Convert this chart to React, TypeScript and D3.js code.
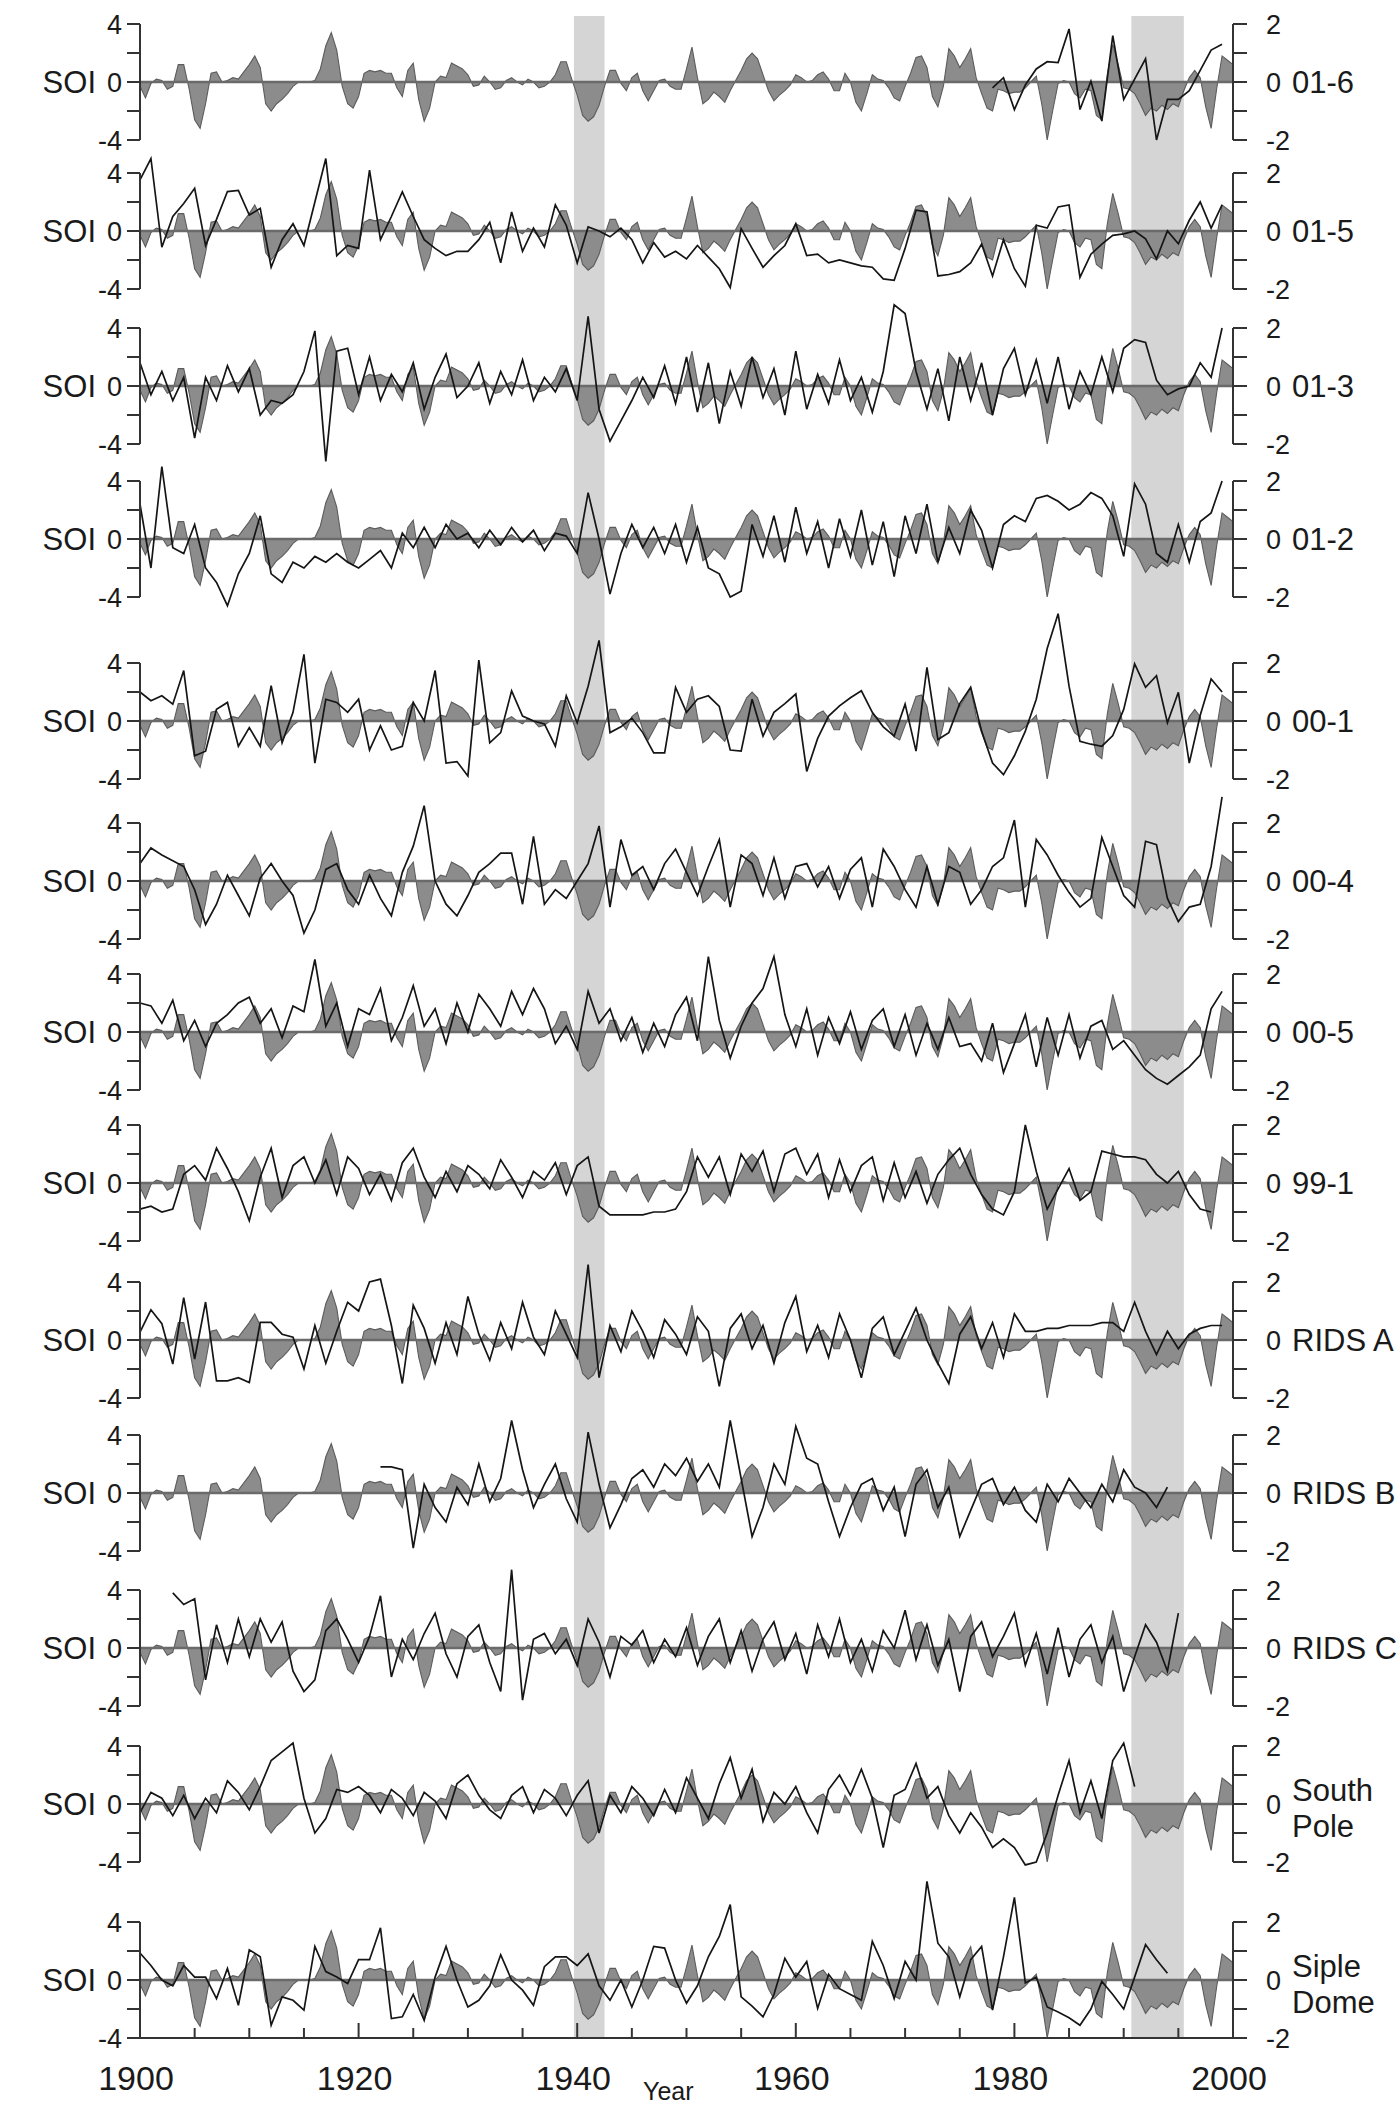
import React from 'react';
import * as d3 from 'd3';

// ---------------- DATA ----------------
const soiStart = 1900;
const soiStep = 0.5;
const soiValues = [
  -0.3, -1.1, -0.1, 0.2, 0.1, -0.5, -0.3, 1.2, 1.2, -0.5,
  -2.6, -3.2, -1.5, 0.6, 0.7, 0, 0.1, 0.3, 0.2, 0.7,
  1.2, 1.8, 1.0, -1.5, -2.0, -1.5, -1.2, -0.8, -0.3, 0,
  0, 0, 0.1, 0.9, 2.5, 3.4, 2.2, -0.3, -1.5, -1.8,
  -1.0, 0.6, 0.8, 0.7, 0.8, 0.6, 0.6, -0.4, -1.0, 0.8,
  1.3, -1.2, -2.7, -1.8, 0, 0.4, 0.3, 1.3, 1.1, 0.9,
  0.5, -0.3, -0.2, 0.4, 0, -0.5, -0.4, 0.1, 0.3, 0,
  -0.2, 0.2, 0, -0.4, -0.3, 0, 0.5, 1.4, 1.4, 0.2,
  -0.9, -2.3, -2.7, -2.4, -1.6, -0.3, 0.8, 0.8, -0.1, -0.6,
  0.3, 0.6, -0.6, -1.3, -0.6, 0.1, 0.2, -0.3, -0.5, -0.5,
  0.9, 2.4, 0.3, -1.5, -1.2, -0.7, -1.0, -1.4, -0.6, 0.1,
  0.8, 1.6, 2.0, 1.6, 0.5, -0.6, -1.3, -0.9, -0.6, -0.2,
  0.5, 0.3, 0, 0.1, 0.5, 0.7, 0.2, -0.6, -0.6, 0.6,
  0, -1.4, -2.0, -0.8, 0.5, 0.2, 0.1, -0.4, -1.1, -1.3,
  -0.3, 0.6, 1.7, 1.8, 1.0, -1.0, -1.7, -0.3, 2.3, 1.8,
  1.0, 1.6, 2.3, 0.3, -0.8, -1.8, -2.0, -0.5, -0.6, -0.8,
  -0.7, -0.7, -0.4, 0, 0.4, -1.5, -4.0, -2.0, -0.1, 0.1,
  0, -0.8, -1.1, -0.5, -0.6, -2.3, -2.6, 0.5, 2.6, 1.2,
  -0.4, -0.5, -0.8, -1.5, -2.3, -1.8, -2.0, -1.6, -1.9, -1.5,
  -1.7, -0.6, 0.3, 0.8, 0.3, -1.7, -3.2, -0.5, 1.8, 1.5,
  1.2,
];

// Ice-core series (annual values, first year given separately)
const s01_6Start = 1978;
const s01_6 = [-0.2, 0.15, -0.95, -0.1, 0.45, 0.7, 0.67, 1.83, -0.95, 0.03, -1.35, 1.6, -0.6, 0.1, 0.8, -2.0, -0.6, -0.6, -0.3, 0.4, 1.1, 1.3];

const s01_5Start = 1900;
const s01_5 = [
  1.76, 2.5, -0.56, 0.5, 0.95, 1.47, -0.5, 0.4, 1.36, 1.4,
  0.55, 0.78, -1.25, -0.3, 0.25, -0.5, 1.0, 2.5, -0.85, -0.5,
  -0.6, 2.1, -0.3, 0.5, 1.35, 0.5, -0.3, -0.6, -0.85, -0.7,
  -0.7, -0.3, 0.3, -1.1, 0.66, -0.7, 0.1, -0.55, 0.9, 0.2,
  -1.1, 0.14, 0, -0.2, 0.1, -0.3, -1.1, -0.4, -0.9, -0.7,
  -0.96, -0.5, -0.9, -1.3, -1.95, 0.08, -0.6, -1.25, -0.85, -0.5,
  0.25, -0.85, -0.8, -1.1, -1.0, -1.1, -1.2, -1.25, -1.65, -1.7,
  -0.6, 0.72, 0.66, -1.55, -1.5, -1.4, -1.1, -0.45, -1.55, -0.3,
  -1.3, -1.9, 0.2, 0.1, 0.83, 0.9, -1.6, -0.8, -0.45, -0.15,
  -0.1, 0, -0.27, -0.96, 0, -0.44, 0.37, 1.0, 0.1, 0.9,
];

const s01_3Start = 1900;
const s01_3 = [
  0.8, -0.3, 0.5, -0.5, 0.3, -1.8, 0.3, -0.5, 0.7, -0.2,
  0.6, -1.0, -0.5, -0.6, -0.3, 0.5, 1.9, -2.6, 1.2, 1.3,
  -0.3, 1.0, -0.5, 0.4, -0.2, 0.8, -0.8, 0.3, 1.1, -0.4,
  0, 0.8, -0.6, 0.5, -0.3, 0.9, -0.5, 0.3, -0.2, 0.6,
  -0.5, 2.4, -0.8, -1.9, -1.2, -0.5, 0.3, -0.4, 0.7, -0.6,
  1.0, -0.9, 0.8, -1.3, 0.5, -0.7, 1.0, -0.4, 0.6, -1.0,
  1.2, -0.8, 0.4, -0.6, 0.9, -0.5, 0.3, -0.9, 0.5, 2.8,
  2.5, 0.5, -0.8, 0.6, -1.2, 1.0, -0.5, 0.8, -1.0, 0.6,
  1.3, -0.3, 0.9, -0.6, 1.0, -0.8, 0.5, -0.3, 1.0, -0.2,
  1.3, 1.6, 1.5, 0.2, -0.3, -0.1, 0, 0.8, 0.3, 2.0,
];

const s01_2Start = 1900;
const s01_2 = [
  1.2, -1.0, 2.5, -0.3, -0.5, 0.5, -1.0, -1.5, -2.3, -1.2,
  -0.5, 0.8, -1.2, -1.5, -0.8, -1.0, -0.6, -0.8, -0.5, -0.8,
  -1.0, -0.7, -0.4, -1.0, 0.2, -0.3, 0.4, -0.3, 0.5, 0,
  0.2, -0.3, 0.3, -0.2, 0.4, -0.1, 0.3, -0.4, 0.2, 0.1,
  -0.5, 1.6, 0, -1.9, -0.5, 0.5, -0.3, 0.4, -0.5, 0.5,
  -0.8, 0.4, -1.0, -1.2, -2.0, -1.8, 0.5, -0.6, 0.8, -0.8,
  1.1, -0.5, 0.6, -1.0, 0.7, -0.6, 1.0, -0.9, 0.6, -1.3,
  0.8, -0.5, 1.2, -0.8, 0.4, -0.5, 1.0, 0.3, -1.0, 0.5,
  0.8, 0.6, 1.4, 1.5, 1.3, 1.0, 1.2, 1.6, 1.4, 0.8,
  -0.6, 1.9, 1.2, -0.5, -0.8, 0.5, -0.8, 0.6, 0.9, 2.0,
];

const s00_1Start = 1900;
const s00_1 = [
  1.0, 0.7, 0.87, 0.58, 1.74, -1.2, -1.04, 0.4, 0.64, -0.87,
  -0.23, -0.87, 1.22, -0.75, 0.3, 2.3, -1.45, 0.75, 0.64, 0.3,
  0.75, -1.0, -0.17, -1.0, -0.87, 0.64, 0.0, 1.74, -1.45, -1.4,
  -1.9, 2.1, -0.75, -0.4, 1.04, 0.17, 0, -0.1, -0.87, 0.87,
  -0.06, 1.2, 2.78, -0.4, -0.2, 0.1, -0.4, -1.1, -1.1, 1.16,
  0.3, 0.75, 0.87, 0.5, -1.0, -1.04, 0.75, -0.52, 0.3, 0.6,
  0.93, -1.74, -0.6, 0.17, 0.52, 0.8, 1.04, 0.3, -0.2, -0.52,
  0.58, -1.04, 1.85, -0.64, -0.4, 0.6, 1.16, -0.35, -1.45, -1.85,
  -1.2, -0.35, 0.75, 2.5, 3.7, 1.2, -0.7, -0.8, -0.87, -0.5,
  0.4, 1.97, 1.16, 1.56, -0.06, 0.99, -1.45, 0.2, 1.45, 1.0,
];

const s00_4Start = 1900;
const s00_4 = [
  0.6, 1.14, 0.9, 0.7, 0.5, -0.3, -1.5, -0.8, 0.2, -0.5,
  -1.2, 0.1, 0.6, 0, -0.5, -1.8, -1.0, 0.4, 0.6, -0.3,
  -0.8, 0.2, -0.6, -1.2, 0.3, 1.2, 2.6, 0.0, -0.8, -1.2,
  -0.5, 0.3, 0.6, 0.96, 0.96, -0.8, 1.54, -0.8, -0.3, -0.6,
  0.0, 0.6, 1.9, -0.9, 1.43, 0.2, 0.5, -0.3, 0.6, 1.1,
  0.3, -0.5, 0.5, 1.43, -0.9, 0.9, 0.6, -0.5, 0.8, -0.6,
  0.5, 0.6, -0.2, 0.5, -0.6, 0.4, 0.8, -0.9, 1.1, 0.5,
  -0.3, -0.9, 0.5, -0.8, 0.5, 0.3, -0.8, -0.3, 0.5, 0.8,
  2.1, -0.9, 1.43, 0.9, 0.2, -0.4, -0.9, -0.6, 1.5, 0.5,
  -0.5, -0.9, 1.37, 1.25, -0.6, -1.4, -0.9, -0.8, 0.5, 2.9,
];

const s00_5Start = 1900;
const s00_5 = [
  1.0, 0.9, 0.3, 1.1, -0.3, 0.4, -0.5, 0.3, 0.6, 1.0,
  1.2, 0.3, 0.8, -0.2, 0.9, 0.7, 2.5, 0.2, 1.0, -0.5,
  0.8, 0.6, 1.5, -0.3, 0.5, 1.6, 0.2, 0.8, -0.4, 1.0,
  0.0, 1.3, 0.8, 0.2, 1.4, 0.6, 1.5, 0.8, -0.4, 0.2,
  -0.6, 1.4, 0.3, 0.8, -0.3, 0.5, -0.7, 0.3, -0.5, 0.6,
  1.2, -0.3, 2.6, 0.4, -0.9, 0.2, 1.0, 1.5, 2.6, 0.6,
  -0.5, 0.8, -0.8, 0.5, -0.4, 0.7, -0.6, 0.4, 0.8, -0.5,
  0.6, -0.8, 0.3, -0.6, 0.5, -0.5, -0.4, -1.0, 0.3, -1.4,
  -0.4, 0.6, -1.2, 0.5, -0.8, 0.6, -0.9, 0.2, 0.4, -0.6,
  -0.3, -0.8, -1.3, -1.6, -1.8, -1.5, -1.2, -0.8, 0.8, 1.4,
];

const s99_1Start = 1900;
const s99_1 = [
  -0.9, -0.8, -1.0, -0.9, 0.3, 0.6, 0.1, 1.2, 0.5, -0.3,
  -1.3, 0.2, 1.2, -0.5, 0.6, 0.9, 0.0, 0.8, -0.4, 0.9,
  0.5, -0.4, 0.3, -0.6, 0.7, 1.2, 0.2, -0.5, 0.4, -0.3,
  0.6, 0.3, -0.2, 0.8, 0.2, -0.5, 0.4, 0.1, 0.7, -0.4,
  0.6, 0.9, -0.8, -1.1, -1.1, -1.1, -1.1, -1.0, -1.0, -0.9,
  -0.3, 0.9, 0.2, 0.9, -0.4, 1.0, 0.4, 1.1, -0.3, 1.0,
  1.2, 0.3, 1.0, -0.5, 0.8, -0.3, 0.6, 0.9, -0.6, 0.7,
  -0.5, 0.4, -0.7, 0.3, 0.8, 1.2, 0.3, -0.4, -0.9, -1.1,
  -0.3, 2.0, 0.4, -0.9, -0.2, 0.5, -0.6, -0.3, 1.1, 1.0,
  0.9, 0.9, 0.8, 0.3, 0.0, 0.4, -0.4, -0.9, -1.0,
];

const sRidsAStart = 1900;
const sRidsA = [
  0.27, 1.04, 0.56, -0.83, 1.46, -0.66, 1.31, -1.41, -1.41, -1.3,
  -1.47, 0.61, 0.61, 0.2, 0.1, -1.0, 0.5, -0.8, 0.3, 1.3,
  1.0, 2.0, 2.1, 0.5, -1.5, 1.2, 0.4, -0.8, 0.6, -0.5,
  1.5, 0.2, -0.7, 0.6, -0.3, 1.3, 0.1, -0.5, 1.0, 0.2,
  -0.6, 2.6, -1.3, 0.5, -0.4, 1.0, 0.3, -0.6, 0.7, 0.2,
  -0.5, 0.8, 0.3, -1.6, 0.4, 0.9, -0.3, 0.5, -0.8, 0.6,
  1.5, -0.4, 0.5, -0.6, 0.9, 0.0, -1.3, 0.4, 0.8, -0.5,
  0.3, 1.1, 0.0, -0.8, -1.5, 0.2, 0.8, -0.3, 0.6, -0.6,
  0.9, 0.3, 0.3, 0.4, 0.4, 0.5, 0.5, 0.5, 0.6, 0.6,
  0.3, 1.3, 0.3, -0.5, 0.3, -0.3, 0.2, 0.4, 0.5, 0.5,
];

const sRidsBStart = 1922;
const sRidsB = [
  0.9, 0.9, 0.8, -1.9, 0.3, -0.5, -1.0, 0.2, -0.4, 1.0,
  -0.3, 0.5, 2.5, 0.8, -0.5, 0.3, 1.0, -0.2, -1.0, 2.1,
  0.3, -1.2, -0.4, 0.5, 0.8, 0.2, 1.0, 0.6, 1.2, 0.4,
  1.0, 0.2, 2.5, 0.5, -1.5, -0.5, 1.0, 0.3, 2.3, 1.2,
  1.0, -0.3, -1.5, -0.5, 0.3, 0.5, -0.6, 0.2, -1.5, 0.3,
  0.8, -0.5, 0.2, -1.5, -0.6, 0.3, 0.5, -0.4, 0.2, -0.6,
  -1.0, 0.3, -0.3, 0.5, 0.0, -0.5, 0.3, -0.3, 0.8, 0.2,
  0.0, -0.5, 0.2,
];

const sRidsCStart = 1903;
const sRidsC = [
  1.9, 1.5, 1.7, -1.1, 0.8, -0.5, 1.0, -0.3, 1.0, 0.2,
  0.9, -0.8, -1.5, -1.1, 0.6, 1.0, 0.3, -0.5, 0.4, 1.8,
  -1.0, 0.3, -0.4, 0.5, 1.2, -0.2, -1.0, 0.4, 0.8, -0.5,
  -1.5, 2.7, -1.8, 0.3, 0.5, -0.2, 0.3, -0.6, 1.0, 0.2,
  -1.0, 0.4, 0.1, 0.6, -0.5, 0.3, -0.3, 0.7, -0.6, 0.4,
  1.0, -0.5, 0.6, -0.8, 0.3, 0.9, -0.4, 0.5, -0.9, 0.8,
  -0.3, 1.0, -0.5, 0.3, -0.8, 0.6, 0.0, 1.3, -0.4, 0.8,
  -0.6, 0.3, -1.5, 0.4, 0.9, -0.3, 0.4, 1.2, -0.6, 0.5,
  -0.9, 0.7, -1.0, 0.3, 0.8, -0.5, 0.4, -1.5, -0.3, 0.8,
  0.2, -0.8, 1.2,
];

const sSouthPoleStart = 1900;
const sSouthPole = [
  -0.3, 0.4, 0.2, -0.4, 0.3, -0.5, 0.2, -0.3, 0.8, 0.4,
  -0.2, 0.6, 1.5, 1.8, 2.1, 0.2, -1.0, -0.5, 0.5, 0.4,
  0.6, 0.3, -0.3, 0.5, 0.2, -0.4, 0.4, 0.1, -0.5, 0.7,
  1.0, 0.3, -0.2, -0.5, 0.3, 0.6, -0.3, 0.5, 0.2, -0.4,
  0.3, 0.8, -1.0, 0.3, -0.3, 0.6, 0.2, -0.4, 0.5, -0.3,
  0.9, 0.2, -0.5, 0.7, 1.6, 0.2, 1.2, -0.6, 0.4, 0.0,
  0.6, -0.3, -1.0, 0.5, 1.0, 0.3, 1.2, 0.2, -1.5, 0.3,
  0.5, 1.4, 0.2, 0.6, -0.4, -1.0, -0.3, -0.8, -1.5, -1.2,
  -1.5, -2.1, -2.0, -1.0, 0.3, 1.5, -0.3, 0.8, -0.5, 1.5,
  2.1, 0.6,
];

const sSipleStart = 1900;
const sSiple = [
  0.93, 0.5, 0, -0.2, 0.5, 0.1, 0.1, -0.64, 0.4, -0.87,
  1.04, 0.8, -1.56, -0.58, -0.7, -1.04, 1.16, 0.29, 0.1, -0.12,
  0.7, 0.7, 1.8, -1.33, -1.27, -0.5, -1.39, 0.1, 1.16, 0.0,
  -0.93, -0.7, -0.2, 0.87, 0, -0.35, -0.87, 0.46, 0.8, 0.8,
  0.5, 0.9, -0.2, -0.7, 0, -0.93, 0, 1.16, 1.1, 0,
  -0.8, -0.2, 0.8, 1.5, 2.6, -0.58, -0.9, -1.27, -0.5, 0.75,
  0.1, 0.64, -0.98, 0.2, -0.3, -0.5, -0.7, 1.33, 0.5, -0.64,
  0.64, 0, 3.4, 1.27, 0.8, -0.58, 0.7, 1.16, -1.04, 0.8,
  2.85, -0.1, 0.1, -0.93, -1.1, -1.3, -1.56, -1.0, -0.05, -0.5,
  -1.0, 0.1, 1.22, 0.7, 0.23,
];

const seriesNames = ['01-6', '01-5', '01-3', '01-2', '00-1', '00-4', '00-5', '99-1', 'RIDS A', 'RIDS B', 'RIDS C', 'South Pole', 'Siple Dome'];
const seriesStarts = [s01_6Start, s01_5Start, s01_3Start, s01_2Start, s00_1Start, s00_4Start, s00_5Start, s99_1Start, sRidsAStart, sRidsBStart, sRidsCStart, sSouthPoleStart, sSipleStart];
const seriesValues = [s01_6, s01_5, s01_3, s01_2, s00_1, s00_4, s00_5, s99_1, sRidsA, sRidsB, sRidsC, sSouthPole, sSiple];

const leftTicks = [-4, -2, 0, 2, 4];
const leftTickLabels = [4, 0, -4];
const rightTicks = [-2, -1, 0, 1, 2];
const rightTickLabels = [2, 0, -2];
const yearTicks = d3.range(1900, 2001, 5);
const yearLabels = [1900, 1920, 1940, 1960, 1980, 2000];
const bands = [[1939.7, 1942.5], [1990.7, 1995.5]];

// ---------------- LAYOUT ----------------
const W = 1400;
const H = 2108;
const X0 = 140;
const X1 = 1233;
const panelZero = [82, 231, 386, 539, 721, 881, 1032, 1183, 1340, 1493, 1648, 1804, 1980];
const HALF = 58;
const BAND_TOP = 16;
const FONT = "'Liberation Sans', Arial, Helvetica, sans-serif";

const x = d3.scaleLinear().domain([1900, 2000]).range([X0, X1]);

type Pt = { t: number; v: number };
const soiPts: Pt[] = soiValues.map((v, i) => ({ t: soiStart + i * soiStep, v }));

function Panel({ idx }: { idx: number }) {
  const z = panelZero[idx];
  const yL = d3.scaleLinear().domain([-4, 4]).range([z + HALF, z - HALF]);
  const yR = d3.scaleLinear().domain([-2, 2]).range([z + HALF, z - HALF]);
  const area = d3.area<Pt>().x(d => x(d.t)).y0(yL(0)).y1(d => yL(d.v));
  const edge = d3.line<Pt>().x(d => x(d.t)).y(d => yL(d.v));
  const pts: Pt[] = seriesValues[idx].map((v, i) => ({ t: seriesStarts[idx] + i, v }));
  const line = d3.line<Pt>().x(d => x(d.t)).y(d => yR(d.v));
  const name = seriesNames[idx];
  const twoLine = name === 'South Pole' || name === 'Siple Dome';
  const parts = name.split(' ');
  return (
    <g>
      <path d={area(soiPts) || ''} fill="#8c8c8c" stroke="none" />
      <path d={edge(soiPts) || ''} fill="none" stroke="#5c5c5c" strokeWidth={1.1} />
      <line x1={X0} x2={X1} y1={yL(0)} y2={yL(0)} stroke="#6a6a6a" strokeWidth={2.4} />
      <path d={line(pts) || ''} fill="none" stroke="#151515" strokeWidth={1.7} strokeLinejoin="miter" />
      {/* left axis */}
      <line x1={X0} x2={X0} y1={yL(-4)} y2={yL(4)} stroke="#333" strokeWidth={2} />
      {leftTicks.map(t => (
        <line key={'lt' + t} x1={X0 - 13} x2={X0} y1={yL(t)} y2={yL(t)} stroke="#333" strokeWidth={2} />
      ))}
      {leftTickLabels.map(t => (
        <text key={'ll' + t} x={X0 - 18} y={yL(t)} dy="0.36em" textAnchor="end" fontSize={27} fontFamily={FONT} fill="#1a1a1a">{t}</text>
      ))}
      <text x={96} y={yL(0)} dy="0.36em" textAnchor="end" fontSize={31} fontFamily={FONT} fill="#1a1a1a">SOI</text>
      {/* right axis */}
      <line x1={X1} x2={X1} y1={yR(-2)} y2={yR(2)} stroke="#333" strokeWidth={2} />
      {rightTicks.map(t => (
        <line key={'rt' + t} x1={X1} x2={X1 + 14} y1={yR(t)} y2={yR(t)} stroke="#333" strokeWidth={2} />
      ))}
      {rightTickLabels.map(t => (
        <text key={'rl' + t} x={X1 + 33} y={yR(t)} dy="0.36em" textAnchor="start" fontSize={27} fontFamily={FONT} fill="#1a1a1a">{t}</text>
      ))}
      {twoLine ? (
        <text x={1292} y={z} fontSize={31} fontFamily={FONT} fill="#1a1a1a">
          <tspan x={1292} dy="-0.1em">{parts[0]}</tspan>
          <tspan x={1292} dy="1.15em">{parts[1]}</tspan>
        </text>
      ) : (
        <text x={1292} y={z} dy="0.36em" fontSize={31} fontFamily={FONT} fill="#1a1a1a">{name}</text>
      )}
    </g>
  );
}

export default function App() {
  const last = panelZero.length - 1;
  const yBottom = panelZero[last] + HALF;
  return (
    <svg width={W} height={H} viewBox={`0 0 ${W} ${H}`} style={{ position: 'absolute', left: 0, top: 0, background: '#fff' }}>
      <rect x={0} y={0} width={W} height={H} fill="#fff" />
      {bands.map((b, i) => (
        <rect key={i} x={x(b[0])} width={x(b[1]) - x(b[0])} y={BAND_TOP} height={yBottom - BAND_TOP} fill="#d5d5d5" />
      ))}
      {panelZero.map((_, i) => <Panel key={i} idx={i} />)}
      {/* bottom axis */}
      <line x1={X0} x2={X1} y1={yBottom} y2={yBottom} stroke="#333" strokeWidth={2} />
      {yearTicks.map(t => (
        <line key={'yt' + t} x1={x(t)} x2={x(t)} y1={yBottom} y2={yBottom - (t % 20 === 0 ? 15 : 10)} stroke="#333" strokeWidth={2} />
      ))}
      {yearLabels.map(t => (
        <text key={'yl' + t} x={x(t) - 4} y={2090} textAnchor="middle" fontSize={34} fontFamily={FONT} fill="#1a1a1a">{t}</text>
      ))}
      <text x={643} y={2100} fontSize={25} fontFamily={FONT} fill="#1a1a1a">Year</text>
    </svg>
  );
}
